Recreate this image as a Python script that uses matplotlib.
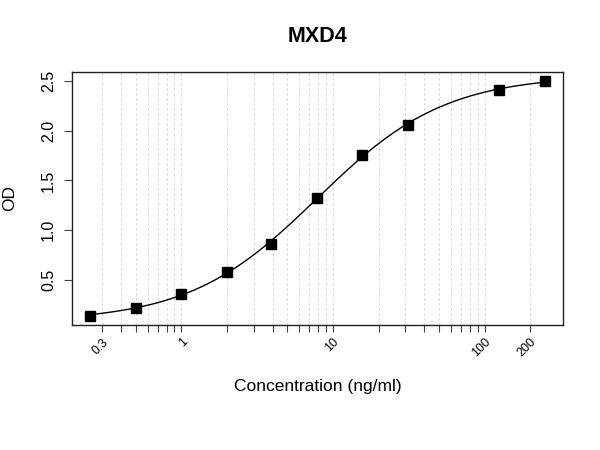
import numpy as np
import matplotlib
matplotlib.use("Agg")
import matplotlib.pyplot as plt
from matplotlib.ticker import FixedLocator, NullLocator, FixedFormatter

plt.rcParams['font.family'] = ['Liberation Sans', 'DejaVu Sans']

title = "MXD4"
xlabel = "Concentration (ng/ml)"
ylabel = "OD"
conc = [0.25, 0.5, 1.0, 2.0, 3.9, 7.8, 15.6, 31.25, 125.0, 250.0]
od = [0.14, 0.22, 0.36, 0.58, 0.86, 1.32, 1.76, 2.06, 2.41, 2.50]
xtick_pos = [0.3, 0.4, 0.5, 0.6, 0.7, 0.8, 0.9, 1, 2, 3, 4, 5, 6, 7, 8, 9,
             10, 20, 30, 40, 50, 60, 70, 80, 90, 100, 200]
xtick_labels = {0.3: "0.3", 1: "1", 10: "10", 100: "100", 200: "200"}
ytick_pos = [0.5, 1.0, 1.5, 2.0, 2.5]
ytick_labels = ["0.5", "1.0", "1.5", "2.0", "2.5"]

x = np.array(conc)
y = np.array(od)


# 4-parameter logistic fit (Levenberg-Marquardt in numpy)
def f4(p, xx):
    a, b, c, d = p
    return d + (a - d) / (1.0 + (xx / c) ** b)


def jac(p, xx):
    eps = 1e-6
    J = np.zeros((len(xx), len(p)))
    for i in range(len(p)):
        dp = np.array(p, dtype=float)
        h = eps * max(1.0, abs(dp[i]))
        dp[i] += h
        J[:, i] = (f4(dp, xx) - f4(p, xx)) / h
    return J


p = np.array([0.1, 1.2, 8.0, 2.6])
lam = 1e-2
for _ in range(500):
    r = y - f4(p, x)
    J = jac(p, x)
    A = J.T @ J
    g = J.T @ r
    step = np.linalg.solve(A + lam * np.diag(np.diag(A)), g)
    pn = p + step
    if pn[2] > 0 and np.sum((y - f4(pn, x)) ** 2) < np.sum(r ** 2):
        p = pn
        lam *= 0.3
    else:
        lam *= 5

xs = np.logspace(np.log10(x.min()), np.log10(x.max()), 400)
ys = f4(p, xs)

fig = plt.figure(figsize=(6, 4.5), dpi=100)
ax = fig.add_axes([72 / 600, 1 - 325 / 450, (563 - 72) / 600, (325 - 71.7) / 450])

ax.set_xscale('log')
lx0, lx1 = np.log10(x.min()), np.log10(x.max())
px = 0.04 * (lx1 - lx0)
ax.set_xlim(10 ** (lx0 - px), 10 ** (lx1 + px))
py = 0.04 * (y.max() - y.min())
ax.set_ylim(y.min() - py, y.max() + py)

for xp in xtick_pos:
    ax.axvline(xp, color='#d4d4d4', linestyle=(0, (2, 2.5)), linewidth=0.8, zorder=0)

ax.plot(xs, ys, color='black', linewidth=1.0, zorder=2)
ax.plot(x, y, linestyle='none', marker='s', markersize=7.5, color='black', zorder=3)

ax.xaxis.set_major_locator(FixedLocator(xtick_pos))
ax.xaxis.set_minor_locator(NullLocator())
ax.xaxis.set_major_formatter(FixedFormatter([xtick_labels.get(v, "") for v in xtick_pos]))
ax.yaxis.set_major_locator(FixedLocator(ytick_pos))
ax.yaxis.set_major_formatter(FixedFormatter(ytick_labels))

ax.tick_params(axis='x', length=5, width=0.8, color='#444444', labelsize=9, pad=3)
ax.tick_params(axis='y', length=5.5, width=0.8, color='#444444', labelsize=11.5, pad=6)
for lab in ax.get_xticklabels():
    lab.set_rotation(45)
    lab.set_ha('right')
    lab.set_va('top')
    lab.set_rotation_mode('anchor')
for lab in ax.get_yticklabels():
    lab.set_rotation(90)
    lab.set_va('center')

for s in ax.spines.values():
    s.set_linewidth(1.0)
    s.set_color('#222222')

cx = (72 + 563) / 2 / 600
fig.text(cx, 1 - 37 / 450, title, ha='center', va='center', fontsize=15.5, fontweight='bold')
fig.text(cx, 1 - 386 / 450, xlabel, ha='center', va='center', fontsize=12.5)
fig.text(10 / 600, 1 - 198 / 450, ylabel, ha='center', va='center', rotation=90, fontsize=12.5)

fig.savefig('out.png', dpi=100)
